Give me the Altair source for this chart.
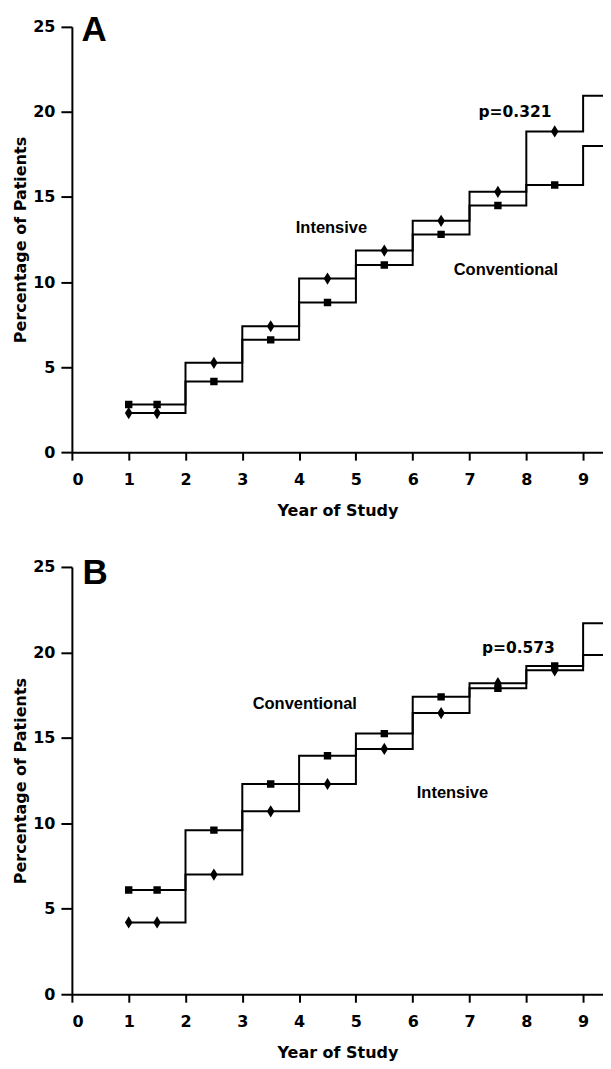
import altair as alt
import pandas as pd

years = [1, 2, 3, 4, 5, 6, 7, 8, 9]
marker_x = [1, 1.5, 2.5, 3.5, 4.5, 5.5, 6.5, 7.5, 8.5, 9.5]

# Panel A
a_intensive = [2.3, 5.25, 7.4, 10.2, 11.85, 13.6, 15.3, 18.85, 20.95]
a_conventional = [2.8, 4.15, 6.6, 8.8, 11.0, 12.8, 14.5, 15.7, 18.0]
# Panel B
b_intensive = [4.2, 7.0, 10.7, 12.3, 14.35, 16.45, 18.2, 18.95, 19.85]
b_conventional = [6.1, 9.6, 12.3, 13.95, 15.25, 17.4, 17.9, 19.2, 21.7]

x_ticks = [0, 1, 2, 3, 4, 5, 6, 7, 8, 9]
y_ticks = [0, 5, 10, 15, 20, 25]

FONT = "Liberation Sans"
AXFONT = "DejaVu Sans"
DIAMOND = "M0,-1L0.62,0L0,1L-0.62,0Z"
X_MAX = 9.35


def panel(letter, ints, convs, p_text, p_xy, int_xy, conv_xy, letter_xy, height):
    line_rows, pt_rows = [], []
    for grp, vals in (("Intensive", ints), ("Conventional", convs)):
        for x, v in zip(years + [10], vals + [vals[-1]]):
            line_rows.append({"year": x, "pct": v, "group": grp})
        for x, v in zip(marker_x, [vals[0]] + vals):
            pt_rows.append({"year": x, "pct": v, "group": grp})
    line_df = pd.DataFrame(line_rows)
    pt_df = pd.DataFrame(pt_rows)
    grp_df = pd.DataFrame({
        "year": [int_xy[0], conv_xy[0]],
        "pct": [int_xy[1], conv_xy[1]],
        "label": ["Intensive", "Conventional"],
    })
    p_df = pd.DataFrame({"year": [p_xy[0]], "pct": [p_xy[1]], "label": [p_text]})
    let_df = pd.DataFrame({"year": [letter_xy[0]], "pct": [letter_xy[1]], "label": [letter]})

    xenc = alt.X("year:Q", scale=alt.Scale(domain=[0, X_MAX], nice=False, zero=False),
                 axis=alt.Axis(values=x_ticks, title="Year of Study", format="d"))
    yenc = alt.Y("pct:Q", scale=alt.Scale(domain=[0, 25], nice=False),
                 axis=alt.Axis(values=y_ticks, title="Percentage of Patients", format="d"))

    lines = alt.Chart(line_df).mark_line(
        interpolate="step-after", color="black", strokeWidth=2, clip=True
    ).encode(x=xenc, y=yenc, detail="group:N")

    points = alt.Chart(pt_df).mark_point(
        filled=True, color="black", opacity=1, clip=True
    ).encode(
        x="year:Q", y="pct:Q",
        shape=alt.Shape("group:N", scale=alt.Scale(domain=["Intensive", "Conventional"],
                                                   range=[DIAMOND, "square"]), legend=None),
        size=alt.Size("group:N", scale=alt.Scale(domain=["Intensive", "Conventional"],
                                                 range=[150, 55]), legend=None),
    )

    grp_labels = alt.Chart(grp_df).mark_text(
        font=FONT, fontWeight="bold", fontSize=16.5, color="black",
        align="center", baseline="middle"
    ).encode(x="year:Q", y="pct:Q", text="label:N")

    p_label = alt.Chart(p_df).mark_text(
        font=AXFONT, fontWeight="bold", fontSize=15.5, color="black",
        align="center", baseline="middle"
    ).encode(x="year:Q", y="pct:Q", text="label:N")

    letter_mark = alt.Chart(let_df).mark_text(
        font=FONT, fontWeight="bold", fontSize=35, color="black",
        align="center", baseline="middle"
    ).encode(x="year:Q", y="pct:Q", text="label:N")

    return alt.layer(lines, points, grp_labels, p_label, letter_mark).properties(
        width=532, height=height)


chart_a = panel("A", a_intensive, a_conventional, "p=0.321",
                (7.8, 20.0), (4.57, 13.2), (7.64, 10.7), (0.39, 24.8), 426)
chart_b = panel("B", b_intensive, b_conventional, "p=0.573",
                (7.86, 20.25), (6.7, 11.8), (4.1, 17.0), (0.41, 24.66), 428)

chart = alt.vconcat(chart_a, chart_b, spacing=37).properties(
    padding={"left": 4, "top": 4, "right": 0, "bottom": 0}
).configure_view(stroke=None).configure_axis(
    grid=False,
    domainColor="black", domainWidth=2,
    tickColor="black", tickWidth=2, tickSize=8,
    labelFont=AXFONT, labelFontSize=16, labelFontWeight="bold", labelColor="black",
    titleFont=AXFONT, titleFontSize=16, titleFontWeight="bold", titleColor="black",
).configure_axisX(labelPadding=11, titlePadding=15).configure_axisY(
    labelPadding=6, titlePadding=4, tickSize=11
)

chart.save("out.html", embed_options={"renderer": "svg", "actions": False})
